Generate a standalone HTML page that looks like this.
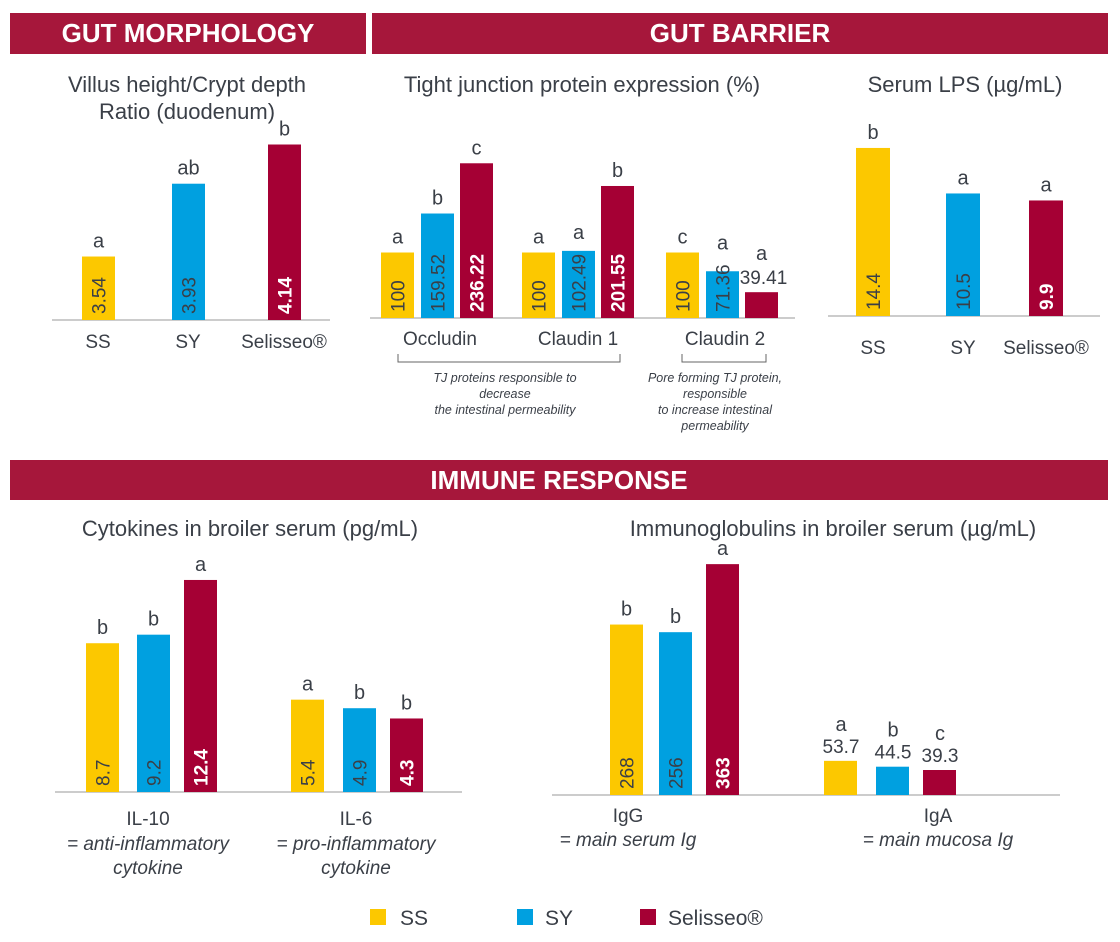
<!DOCTYPE html>
<html><head><meta charset="utf-8">
<style>
html,body{margin:0;padding:0;background:#fff;}
svg{display:block;font-family:"Liberation Sans",sans-serif;}
</style></head>
<body>
<svg id="chart" width="1120" height="942" viewBox="0 0 1120 942">
  <rect x="10" y="13" width="356" height="41" fill="#a6173b"/>
  <text x="188" y="42" text-anchor="middle" font-size="26" font-weight="bold" fill="#fff">GUT MORPHOLOGY</text>
  <rect x="372" y="13" width="736" height="41" fill="#a6173b"/>
  <text x="740" y="42" text-anchor="middle" font-size="26" font-weight="bold" fill="#fff">GUT BARRIER</text>
  <rect x="10" y="460" width="1098" height="40" fill="#a6173b"/>
  <text x="559" y="489" text-anchor="middle" font-size="26" font-weight="bold" fill="#fff">IMMUNE RESPONSE</text>

  <g fill="#3a3f47" font-size="22" text-anchor="middle">
    <text x="187" y="92">Villus height/Crypt depth</text>
    <text x="187" y="119">Ratio (duodenum)</text>
    <text x="582" y="92">Tight junction protein expression (%)</text>
    <text x="965" y="92">Serum LPS (µg/mL)</text>
    <text x="250" y="536">Cytokines in broiler serum (pg/mL)</text>
    <text x="833" y="536">Immunoglobulins in broiler serum (µg/mL)</text>
  </g>

  <g fill="#3a3f47" font-size="19" text-anchor="middle">
    <text x="440" y="345">Occludin</text>
    <text x="578" y="345">Claudin 1</text>
    <text x="725" y="345">Claudin 2</text>
  </g>
  <path d="M398 354 V362 H620 V354" fill="none" stroke="#666" stroke-width="1"/>
  <path d="M682 354 V362 H766 V354" fill="none" stroke="#666" stroke-width="1"/>
  <g fill="#3a3f47" font-size="12.5" font-style="italic" text-anchor="middle">
    <text x="505" y="382">TJ proteins responsible to</text>
    <text x="505" y="398">decrease</text>
    <text x="505" y="414">the intestinal permeability</text>
    <text x="715" y="382">Pore forming TJ protein,</text>
    <text x="715" y="398">responsible</text>
    <text x="715" y="414">to increase intestinal</text>
    <text x="715" y="430">permeability</text>
  </g>

  <g fill="#3a3f47" font-size="19" text-anchor="middle">
    <text x="148" y="825">IL-10</text>
    <text x="148" y="850" font-style="italic">= anti-inflammatory</text>
    <text x="148" y="874" font-style="italic">cytokine</text>
    <text x="356" y="825">IL-6</text>
    <text x="356" y="850" font-style="italic">= pro-inflammatory</text>
    <text x="356" y="874" font-style="italic">cytokine</text>
    <text x="628" y="822">IgG</text>
    <text x="628" y="846" font-style="italic">= main serum Ig</text>
    <text x="938" y="822">IgA</text>
    <text x="938" y="846" font-style="italic">= main mucosa Ig</text>
  </g>

  <g font-size="21" fill="#3a3f47">
    <rect x="370" y="909" width="16" height="16" fill="#fcc800"/>
    <text x="400" y="925">SS</text>
    <rect x="517" y="909" width="16" height="16" fill="#00a0e0"/>
    <text x="545" y="925">SY</text>
    <rect x="640" y="909" width="16" height="16" fill="#a50034"/>
    <text x="668" y="925">Selisseo®</text>
  </g>
</svg>
<script>
// Villus height / crypt depth
const villusValues = [3.54, 3.93, 4.14];
const villusLetters = ["a", "ab", "b"];
const villusCategories = ["SS", "SY", "Selisseo®"];
// Tight junction
const tjCategories = ["Occludin", "Claudin 1", "Claudin 2"];
const tjSS = [100, 100, 100];
const tjSY = [159.52, 102.49, 71.36];
const tjSel = [236.22, 201.55, 39.41];
const tjLettersSS = ["a", "a", "c"];
const tjLettersSY = ["b", "a", "a"];
const tjLettersSel = ["c", "b", "a"];
// Serum LPS
const lpsValues = [14.4, 10.5, 9.9];
const lpsLetters = ["b", "a", "a"];
const lpsCategories = ["SS", "SY", "Selisseo®"];
// Cytokines
const cytoCategories = ["IL-10", "IL-6"];
const cytoSS = [8.7, 5.4];
const cytoSY = [9.2, 4.9];
const cytoSel = [12.4, 4.3];
const cytoLettersSS = ["b", "a"];
const cytoLettersSY = ["b", "b"];
const cytoLettersSel = ["a", "b"];
// Immunoglobulins
const igCategories = ["IgG", "IgA"];
const igSS = [268, 53.7];
const igSY = [256, 44.5];
const igSel = [363, 39.3];
const igLettersSS = ["b", "a"];
const igLettersSY = ["b", "b"];
const igLettersSel = ["a", "c"];

const NS = "http://www.w3.org/2000/svg";
const svg = document.getElementById("chart");
const COLORS = ["#fcc800", "#00a0e0", "#a50034"];
const TXT = ["#3a3f47", "#3a3f47", "#fff"];
function el(tag, attrs, parent) {
  const e = document.createElementNS(NS, tag);
  for (const k in attrs) e.setAttribute(k, attrs[k]);
  (parent || svg).appendChild(e);
  return e;
}
function bar(x, w, base, h, si, value, letter, name, horizWhenSmall) {
  const r = el("rect", {x: x, y: base - h, width: w, height: h, fill: COLORS[si]});
  
  
  const cx = x + w / 2;
  let letterY = base - h - 9;
  if (horizWhenSmall && h < 35) {
    const t = el("text", {x: cx + 2, y: base - h - 8, "text-anchor": "middle", "font-size": 19, fill: "#3a3f47"});
    t.textContent = value;
    
    
    letterY = base - h - 32;
  } else {
    const t = el("text", {transform: "translate(" + (cx + 7) + "," + (base - 6) + ") rotate(-90)", "font-size": 19, fill: TXT[si], "font-weight": si === 2 ? "bold" : "normal"});
    t.textContent = value;
    
    
    const textTop = base - 6 - value.length * 10.5;
    letterY = Math.min(letterY, textTop - 10);
  }
  const l = el("text", {x: cx, y: letterY, "text-anchor": "middle", "font-size": 20, fill: "#3a3f47"});
  l.textContent = letter;
  
  
}
function axis(x1, x2, y, name) {
  const a = el("line", {x1: x1, x2: x2, y1: y, y2: y, stroke: "#bbb", "stroke-width": 1.5});
  
  
}
function catLabel(x, y, text, name) {
  const t = el("text", {x: x, y: y, "text-anchor": "middle", "font-size": 19, fill: "#3a3f47"});
  t.textContent = text;
  
  
}

// Villus chart (truncated axis)
(function () {
  const base = 320, v0 = 3.2, k = 186.7;
  const yH = v => (v - v0) * k;
  const xs = [82, 172, 268];
  axis(52, 330, base, "villus-x-axis");
  villusValues.forEach((v, i) => {
    bar(xs[i], 33, base, yH(v), i, v.toFixed(2), villusLetters[i], "villus-bar-" + i);
    catLabel(xs[i] + 16, 348, villusCategories[i], "villus-category-" + i);
  });
})();

// Tight junction chart
(function () {
  const base = 318, k = 0.655;
  const groupX = [381, 522, 666];
  const offs = [0, 40, 79];
  axis(370, 795, base, "tj-x-axis");
  const series = [tjSS, tjSY, tjSel], letters = [tjLettersSS, tjLettersSY, tjLettersSel];
  tjCategories.forEach((c, g) => {
    series.forEach((s, si) => {
      bar(groupX[g] + offs[si], 33, base, s[g] * k, si, String(s[g]), letters[si][g], "tj-bar-" + g + "-" + si, true);
    });
  });
})();

// LPS chart
(function () {
  const base = 316, k = 11.67;
  const xs = [856, 946, 1029];
  axis(828, 1100, base, "lps-x-axis");
  lpsValues.forEach((v, i) => {
    bar(xs[i], 34, base, v * k, i, String(v), lpsLetters[i], "lps-bar-" + i);
    catLabel(xs[i] + 17, 354, lpsCategories[i], "lps-category-" + i);
  });
})();

// Cytokines chart
(function () {
  const base = 792, k = 17.1;
  const xs = [[86, 137, 184], [291, 343, 390]];
  axis(55, 462, base, "cytokines-x-axis");
  const series = [cytoSS, cytoSY, cytoSel], letters = [cytoLettersSS, cytoLettersSY, cytoLettersSel];
  cytoCategories.forEach((c, g) => {
    series.forEach((s, si) => {
      bar(xs[g][si], 33, base, s[g] * k, si, String(s[g]), letters[si][g], "cyto-bar-" + g + "-" + si);
    });
  });
})();

// Immunoglobulins chart
(function () {
  const base = 795, k = 0.636;
  const xs = [[610, 659, 706], [824, 876, 923]];
  axis(552, 1060, base, "ig-x-axis");
  const series = [igSS, igSY, igSel], letters = [igLettersSS, igLettersSY, igLettersSel];
  igCategories.forEach((c, g) => {
    series.forEach((s, si) => {
      const h = s[g] * k;
      if (h < 60) {
        const r = el("rect", {x: xs[g][si], y: base - h, width: 33, height: h, fill: COLORS[si]});
        
        
        const t = el("text", {x: xs[g][si] + 17, y: base - h - 8, "text-anchor": "middle", "font-size": 19, fill: "#3a3f47"});
        t.textContent = String(s[g]);
        
        
        const l = el("text", {x: xs[g][si] + 17, y: base - h - 30, "text-anchor": "middle", "font-size": 20, fill: "#3a3f47"});
        l.textContent = letters[si][g];
        
        
      } else {
        bar(xs[g][si], 33, base, h, si, String(s[g]), letters[si][g], "ig-bar-" + g + "-" + si);
      }
    });
  });
})();
</script>
</body></html>
